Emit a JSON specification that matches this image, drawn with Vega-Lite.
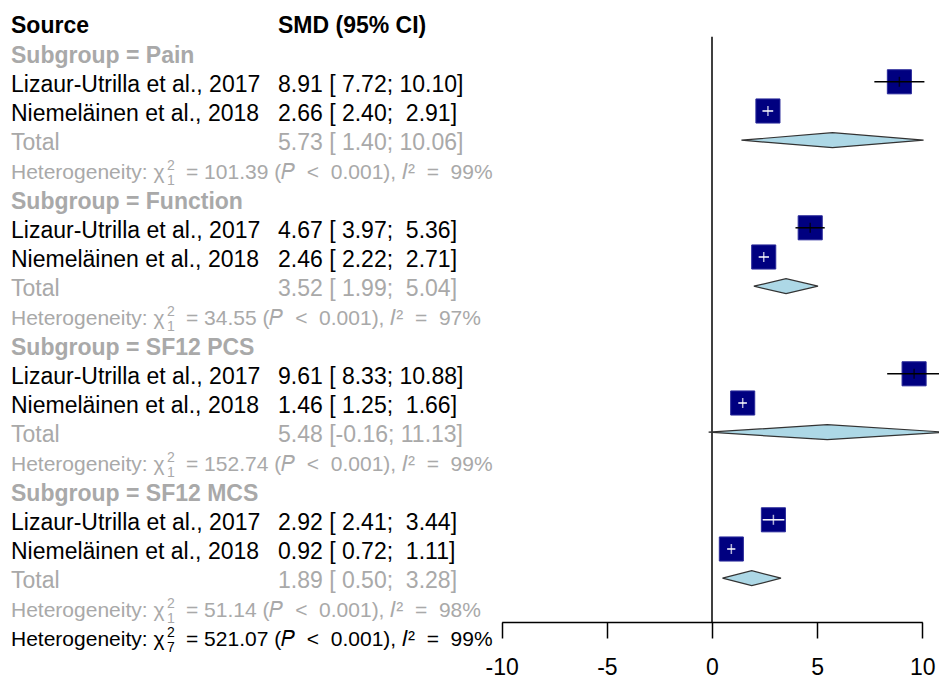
{
  "$schema": "https://vega.github.io/schema/vega-lite/v6.json",
  "width": 939,
  "height": 622,
  "autosize": {"type": "none"},
  "padding": {"left": 0, "top": 0, "right": 0, "bottom": 57},
  "background": "white",
  "data": {
    "values": [
      {"row": 0, "kind": "header", "label": "Source", "smd": "SMD (95% CI)"},
      {"row": 1, "kind": "subgroup", "label": "Subgroup = Pain"},
      {"row": 2, "kind": "study", "label": "Lizaur-Utrilla et al., 2017", "smd": "8.91 [ 7.72; 10.10]", "est": 8.91, "lower": 7.72, "upper": 10.10},
      {"row": 3, "kind": "study", "label": "Niemeläinen et al., 2018", "smd": "2.66 [ 2.40;\u00a0 2.91]", "est": 2.66, "lower": 2.40, "upper": 2.91},
      {"row": 4, "kind": "total", "label": "Total", "smd": "5.73 [ 1.40; 10.06]", "est": 5.73, "lower": 1.40, "upper": 10.06},
      {"row": 5, "kind": "het", "df": "1", "het": "= 101.39 (𝑃\u00a0 <\u00a0 0.001), 𝐼² \u00a0=\u00a0 99%"},
      {"row": 6, "kind": "subgroup", "label": "Subgroup = Function"},
      {"row": 7, "kind": "study", "label": "Lizaur-Utrilla et al., 2017", "smd": "4.67 [ 3.97;\u00a0 5.36]", "est": 4.67, "lower": 3.97, "upper": 5.36},
      {"row": 8, "kind": "study", "label": "Niemeläinen et al., 2018", "smd": "2.46 [ 2.22;\u00a0 2.71]", "est": 2.46, "lower": 2.22, "upper": 2.71},
      {"row": 9, "kind": "total", "label": "Total", "smd": "3.52 [ 1.99;\u00a0 5.04]", "est": 3.52, "lower": 1.99, "upper": 5.04},
      {"row": 10, "kind": "het", "df": "1", "het": "= 34.55 (𝑃\u00a0 <\u00a0 0.001), 𝐼² \u00a0=\u00a0 97%"},
      {"row": 11, "kind": "subgroup", "label": "Subgroup = SF12 PCS"},
      {"row": 12, "kind": "study", "label": "Lizaur-Utrilla et al., 2017", "smd": "9.61 [ 8.33; 10.88]", "est": 9.61, "lower": 8.33, "upper": 10.88},
      {"row": 13, "kind": "study", "label": "Niemeläinen et al., 2018", "smd": "1.46 [ 1.25;\u00a0 1.66]", "est": 1.46, "lower": 1.25, "upper": 1.66},
      {"row": 14, "kind": "total", "label": "Total", "smd": "5.48 [-0.16; 11.13]", "est": 5.48, "lower": -0.16, "upper": 11.13},
      {"row": 15, "kind": "het", "df": "1", "het": "= 152.74 (𝑃\u00a0 <\u00a0 0.001), 𝐼² \u00a0=\u00a0 99%"},
      {"row": 16, "kind": "subgroup", "label": "Subgroup = SF12 MCS"},
      {"row": 17, "kind": "study", "label": "Lizaur-Utrilla et al., 2017", "smd": "2.92 [ 2.41;\u00a0 3.44]", "est": 2.92, "lower": 2.41, "upper": 3.44},
      {"row": 18, "kind": "study", "label": "Niemeläinen et al., 2018", "smd": "0.92 [ 0.72;\u00a0 1.11]", "est": 0.92, "lower": 0.72, "upper": 1.11},
      {"row": 19, "kind": "total", "label": "Total", "smd": "1.89 [ 0.50;\u00a0 3.28]", "est": 1.89, "lower": 0.50, "upper": 3.28},
      {"row": 20, "kind": "het", "df": "1", "het": "= 51.14 (𝑃\u00a0 <\u00a0 0.001), 𝐼² \u00a0=\u00a0 98%"},
      {"row": 21, "kind": "overall", "df": "7", "het": "= 521.07 (𝑃\u00a0 <\u00a0 0.001), 𝐼² \u00a0=\u00a0 99%"}
    ]
  },
  "layer": [
    {
      "layer": [
        {
          "transform": [{"filter": "datum.kind === 'header' || datum.kind === 'subgroup'"}],
          "mark": {"type": "text", "align": "left", "baseline": "alphabetic", "dy": 10, "fontSize": 23, "fontWeight": "bold", "font": "Liberation Sans"},
          "encoding": {
            "x": {"datum": "label", "type": "nominal", "scale": {"type": "point", "domain": ["label", "smd"], "range": [11, 278], "padding": 0}, "axis": null},
            "y": {"field": "row", "type": "quantitative", "scale": {"domain": [-0.801, 20.5], "reverse": true, "nice": false, "zero": false}, "axis": null},
            "text": {"field": "label"},
            "color": {"condition": {"test": "datum.kind === 'header'", "value": "black"}, "value": "#A9A9A9"}
          }
        },
        {
          "transform": [{"filter": "datum.kind === 'header'"}],
          "mark": {"type": "text", "align": "left", "baseline": "alphabetic", "dy": 10, "fontSize": 23, "fontWeight": "bold", "font": "Liberation Sans", "color": "black"},
          "encoding": {
            "x": {"datum": "smd", "type": "nominal"},
            "y": {"field": "row", "type": "quantitative"},
            "text": {"field": "smd"}
          }
        },
        {
          "transform": [{"filter": "datum.kind === 'study' || datum.kind === 'total'"}],
          "mark": {"type": "text", "align": "left", "baseline": "alphabetic", "dy": 10, "fontSize": 23, "font": "Liberation Sans"},
          "encoding": {
            "x": {"datum": "label", "type": "nominal"},
            "y": {"field": "row", "type": "quantitative"},
            "text": {"field": "label"},
            "color": {"condition": {"test": "datum.kind === 'study'", "value": "black"}, "value": "#A9A9A9"}
          }
        },
        {
          "transform": [{"filter": "datum.kind === 'study' || datum.kind === 'total'"}],
          "mark": {"type": "text", "align": "left", "baseline": "alphabetic", "dy": 10, "fontSize": 23, "font": "Liberation Sans"},
          "encoding": {
            "x": {"datum": "smd", "type": "nominal"},
            "y": {"field": "row", "type": "quantitative"},
            "text": {"field": "smd"},
            "color": {"condition": {"test": "datum.kind === 'study'", "value": "black"}, "value": "#A9A9A9"}
          }
        },
        {
          "transform": [{"filter": "datum.kind === 'het' || datum.kind === 'overall'"}],
          "mark": {"type": "text", "align": "left", "baseline": "alphabetic", "dy": 9.5, "fontSize": 21, "font": "Liberation Sans"},
          "encoding": {
            "x": {"datum": "label", "type": "nominal"},
            "y": {"field": "row", "type": "quantitative"},
            "text": {"value": "Heterogeneity: χ"},
            "color": {"condition": {"test": "datum.kind === 'overall'", "value": "black"}, "value": "#A9A9A9"}
          }
        },
        {
          "transform": [{"filter": "datum.kind === 'het' || datum.kind === 'overall'"}],
          "mark": {"type": "text", "align": "left", "baseline": "alphabetic", "dx": 156, "dy": 0.5, "fontSize": 14, "font": "Liberation Sans"},
          "encoding": {
            "x": {"datum": "label", "type": "nominal"},
            "y": {"field": "row", "type": "quantitative"},
            "text": {"value": "2"},
            "color": {"condition": {"test": "datum.kind === 'overall'", "value": "black"}, "value": "#A9A9A9"}
          }
        },
        {
          "transform": [{"filter": "datum.kind === 'het' || datum.kind === 'overall'"}],
          "mark": {"type": "text", "align": "left", "baseline": "alphabetic", "dx": 156, "dy": 15.5, "fontSize": 14, "font": "Liberation Sans"},
          "encoding": {
            "x": {"datum": "label", "type": "nominal"},
            "y": {"field": "row", "type": "quantitative"},
            "text": {"field": "df"},
            "color": {"condition": {"test": "datum.kind === 'overall'", "value": "black"}, "value": "#A9A9A9"}
          }
        },
        {
          "transform": [{"filter": "datum.kind === 'het' || datum.kind === 'overall'"}],
          "mark": {"type": "text", "align": "left", "baseline": "alphabetic", "dx": 175, "dy": 9.5, "fontSize": 21, "font": "Liberation Sans"},
          "encoding": {
            "x": {"datum": "label", "type": "nominal"},
            "y": {"field": "row", "type": "quantitative"},
            "text": {"field": "het"},
            "color": {"condition": {"test": "datum.kind === 'overall'", "value": "black"}, "value": "#A9A9A9"}
          }
        }
      ]
    },
    {
      "layer": [
        {
          "data": {"values": [{}]},
          "mark": {"type": "rule", "color": "black", "strokeWidth": 1.5},
          "encoding": {
            "x": {"datum": 0, "type": "quantitative", "scale": {"domain": [-10, 10], "range": [501.7, 922.3], "nice": false, "zero": false}, "axis": {"values": [-10, -5, 0, 5, 10], "title": null, "orient": "bottom", "labelExpr": "'' + datum.value"}},
            "y": {"datum": 0.455, "type": "quantitative"},
            "y2": {"datum": 20.5}
          }
        },
        {
          "transform": [
            {"filter": "datum.kind === 'total'"},
            {"fold": ["lower", "est", "upper"], "as": ["vertex", "xv"]},
            {"calculate": "datum.vertex === 'est' ? datum.row - 0.257 : datum.row", "as": "ytop"},
            {"calculate": "datum.vertex === 'est' ? datum.row + 0.257 : datum.row", "as": "ybot"}
          ],
          "mark": {"type": "area", "orient": "vertical", "fill": "#ADD8E6", "stroke": "#333333", "strokeWidth": 1.2, "fillOpacity": 1, "opacity": 1},
          "encoding": {
            "x": {"field": "xv", "type": "quantitative", "title": null},
            "y": {"field": "ytop", "type": "quantitative"},
            "y2": {"field": "ybot"},
            "detail": {"field": "row", "type": "nominal"}
          }
        },
        {
          "transform": [{"filter": "datum.kind === 'study'"}],
          "mark": {"type": "point", "shape": "square", "filled": true, "fill": "#000080", "stroke": "#2a2a9a", "strokeWidth": 1, "opacity": 1, "size": 580},
          "encoding": {
            "x": {"field": "est", "type": "quantitative", "title": null},
            "y": {"field": "row", "type": "quantitative"}
          }
        },
        {
          "transform": [{"filter": "datum.kind === 'study'"}],
          "mark": {"type": "rule", "strokeWidth": 1.5},
          "encoding": {
            "x": {"field": "lower", "type": "quantitative", "title": null},
            "x2": {"field": "upper"},
            "y": {"field": "row", "type": "quantitative"},
            "color": {"condition": {"test": "datum.upper - datum.lower < 1.15", "value": "white"}, "value": "black"}
          }
        },
        {
          "transform": [{"filter": "datum.kind === 'study'"}],
          "mark": {"type": "tick", "orient": "vertical", "size": 10, "thickness": 1.5},
          "encoding": {
            "x": {"field": "est", "type": "quantitative", "title": null},
            "y": {"field": "row", "type": "quantitative"},
            "color": {"condition": {"test": "datum.upper - datum.lower < 1.15", "value": "white"}, "value": "black"}
          }
        }
      ]
    }
  ],
  "resolve": {"scale": {"x": "independent"}, "axis": {"x": "independent"}},
  "config": {
    "view": {"stroke": null},
    "font": "Liberation Sans",
    "axisX": {
      "domainColor": "black",
      "domainWidth": 1.5,
      "tickColor": "black",
      "tickWidth": 1.5,
      "tickSize": 16,
      "labelFontSize": 23,
      "labelColor": "black",
      "labelFont": "Liberation Sans",
      "labelPadding": 18,
      "grid": false,
      "labelFlush": false,
      "labelOverlap": false
    }
  }
}
